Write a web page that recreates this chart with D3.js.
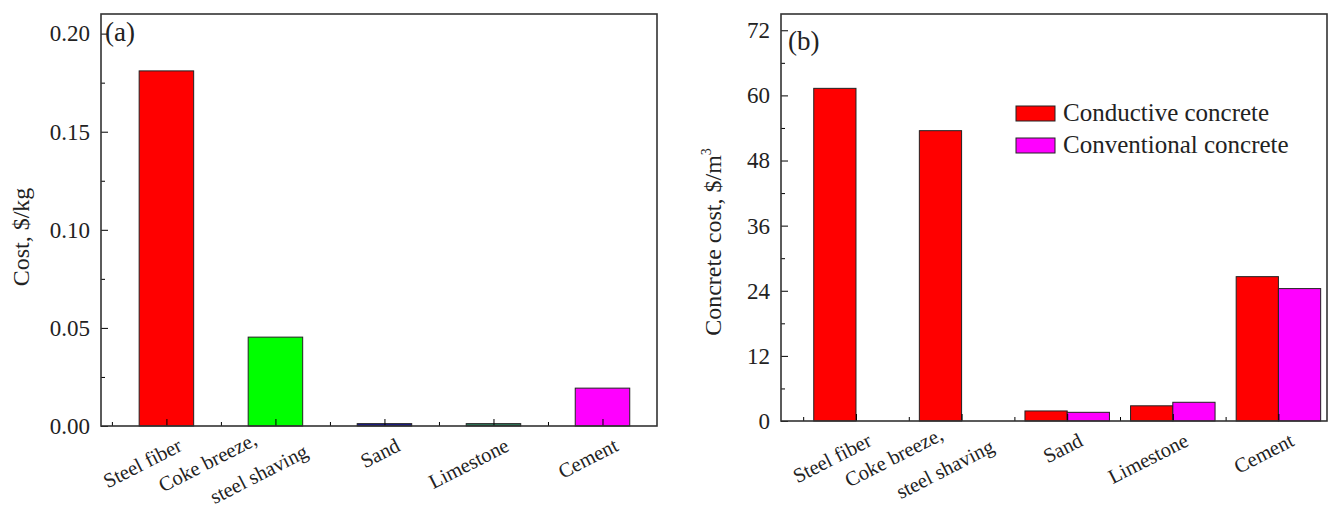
<!DOCTYPE html>
<html>
<head>
<script src="https://d3js.org/d3.v7.min.js"></script>
<style>
  body { margin: 0; background: #fff; }
  text { font-family: "Liberation Serif", "Times New Roman", serif; fill: #222; }
</style>
</head>
<body>
<div id="chart"></div>
<script>
// data
const categories = ["Steel fiber", "Coke breeze,|steel shaving", "Sand", "Limestone", "Cement"];
const costPerKg = [0.181, 0.0453, 0.0012, 0.0012, 0.0193];
const costColors = ["#ff0000", "#00ff00", "#1c1c8c", "#2e7a5c", "#ff00ff"];
const conductive = [61.3, 53.5, 1.85, 2.8, 26.6];
const conventional = [0, 0, 1.6, 3.45, 24.4];
const seriesNames = ["Conductive concrete", "Conventional concrete"];
const seriesColors = ["#ff0000", "#ff00ff"];
const yTicksA = [0, 0.05, 0.10, 0.15, 0.20];
const yMinorA = [0.025, 0.075, 0.125, 0.175];
const yTicksB = [0, 12, 24, 36, 48, 60, 72];
const yMinorB = [6, 18, 30, 42, 54, 66];

const svg = d3.select("#chart").append("svg")
    .attr("width", 1333).attr("height", 508);

const catIdx = categories.map((d, i) => i + 1);
const boundaries = [0.5, 1.5, 2.5, 3.5, 4.5];
const labelAngle = -27;

function drawYAxis(g, x, y, yTicks, yMinor, fmt) {
    // ticks point inward
    g.append("g")
        .attr("transform", `translate(${x.range()[0]},0)`)
        .call(d3.axisLeft(y).tickValues(yTicks).tickSize(-7).tickPadding(11).tickFormat(fmt))
        .call(a => a.select(".domain").remove())
        .call(a => a.selectAll("text").style("font-size", "23px").attr("fill", "#222"));
    g.append("g")
        .attr("transform", `translate(${x.range()[0]},0)`)
        .call(d3.axisLeft(y).tickValues(yMinor).tickSize(-4).tickFormat(""))
        .call(a => a.select(".domain").remove());
}

function drawXAxis(g, x, y) {
    g.append("g")
        .attr("transform", `translate(0,${y.range()[0]})`)
        .call(d3.axisBottom(x).tickValues(catIdx).tickSize(-7).tickFormat(""))
        .call(a => a.select(".domain").remove());
    g.append("g")
        .attr("transform", `translate(0,${y.range()[0]})`)
        .call(d3.axisBottom(x).tickValues(boundaries).tickSize(-4).tickFormat(""))
        .call(a => a.select(".domain").remove());
    // frame
    g.append("rect")
        .attr("x", x.range()[0]).attr("y", y.range()[1])
        .attr("width", x.range()[1] - x.range()[0])
        .attr("height", y.range()[0] - y.range()[1])
        .attr("fill", "none").attr("stroke", "#333").attr("stroke-width", 1.6);
    // rotated category labels
    const base = y.range()[0];
    categories.forEach((c, i) => {
        const cx = x(i + 1);
        const lines = c.split("|");
        if (lines.length === 1) {
            g.append("text")
                .attr("text-anchor", "end")
                .attr("transform", `translate(${cx + 17},${base + 24}) rotate(${labelAngle})`)
                .style("font-size", "20.5px")
                .text(c);
        } else {
            g.append("text")
                .attr("text-anchor", "end")
                .attr("transform", `translate(${cx - 17},${base + 18}) rotate(${labelAngle})`)
                .style("font-size", "20.5px")
                .text(lines[0]);
            g.append("text")
                .attr("text-anchor", "end")
                .attr("transform", `translate(${cx + 34},${base + 30}) rotate(${labelAngle})`)
                .style("font-size", "20.5px")
                .text(lines[1]);
        }
    });
}

// ---- panel (a)
const xa = d3.scaleLinear().domain([0.4, 5.5]).range([101, 657]);
const ya = d3.scaleLinear().domain([0, 0.21]).range([426, 14]);
const ga = svg.append("g");
const wa = xa(1.5) - xa(1);

ga.selectAll(".bar").data(costPerKg).join("rect")
    .attr("x", (d, i) => xa(i + 1) - wa / 2)
    .attr("y", d => ya(d))
    .attr("width", wa)
    .attr("height", d => ya(0) - ya(d))
    .attr("fill", (d, i) => costColors[i])
    .attr("stroke", "#222").attr("stroke-width", 1);

drawYAxis(ga, xa, ya, yTicksA, yMinorA, d3.format(".2f"));
drawXAxis(ga, xa, ya);

ga.append("text").attr("x", 105).attr("y", 41).style("font-size", "27px").text("(a)");
ga.append("text")
    .attr("transform", "translate(29,237) rotate(-90)")
    .attr("text-anchor", "middle")
    .style("font-size", "24px")
    .text("Cost, $/kg");

// ---- panel (b)
const xb = d3.scaleLinear().domain([0.29, 5.46]).range([781, 1327]);
const yb = d3.scaleLinear().domain([0, 75]).range([421, 14]);
const gb = svg.append("g");
const wb = xb(1.4) - xb(1);

gb.selectAll(".cond").data(conductive).join("rect")
    .attr("x", (d, i) => xb(i + 1) - wb)
    .attr("y", d => yb(d))
    .attr("width", wb)
    .attr("height", d => yb(0) - yb(d))
    .attr("fill", seriesColors[0])
    .attr("stroke", "#222").attr("stroke-width", 1);

gb.selectAll(".conv").data(conventional).join("rect")
    .attr("x", (d, i) => xb(i + 1))
    .attr("y", d => yb(d))
    .attr("width", wb)
    .attr("height", d => yb(0) - yb(d))
    .attr("fill", seriesColors[1])
    .attr("stroke", "#222").attr("stroke-width", 1)
    .attr("display", d => d > 0 ? null : "none");

drawYAxis(gb, xb, yb, yTicksB, yMinorB, d3.format("d"));
drawXAxis(gb, xb, yb);

gb.append("text").attr("x", 788).attr("y", 50).style("font-size", "27px").text("(b)");
const yl = gb.append("text")
    .attr("transform", "translate(721,242) rotate(-90)")
    .attr("text-anchor", "middle")
    .style("font-size", "24px");
yl.append("tspan").text("Concrete cost, $/m");
yl.append("tspan").attr("dy", -10).style("font-size", "14px").text("3");

// legend
const lg = gb.append("g").attr("transform", "translate(1016,106)");
seriesNames.forEach((s, i) => {
    lg.append("rect")
        .attr("x", 0).attr("y", i * 32)
        .attr("width", 39).attr("height", 15)
        .attr("fill", seriesColors[i])
        .attr("stroke", "#222").attr("stroke-width", 1);
    lg.append("text")
        .attr("x", 47).attr("y", i * 32 + 15)
        .style("font-size", "25px")
        .text(s);
});
</script>
</body>
</html>
